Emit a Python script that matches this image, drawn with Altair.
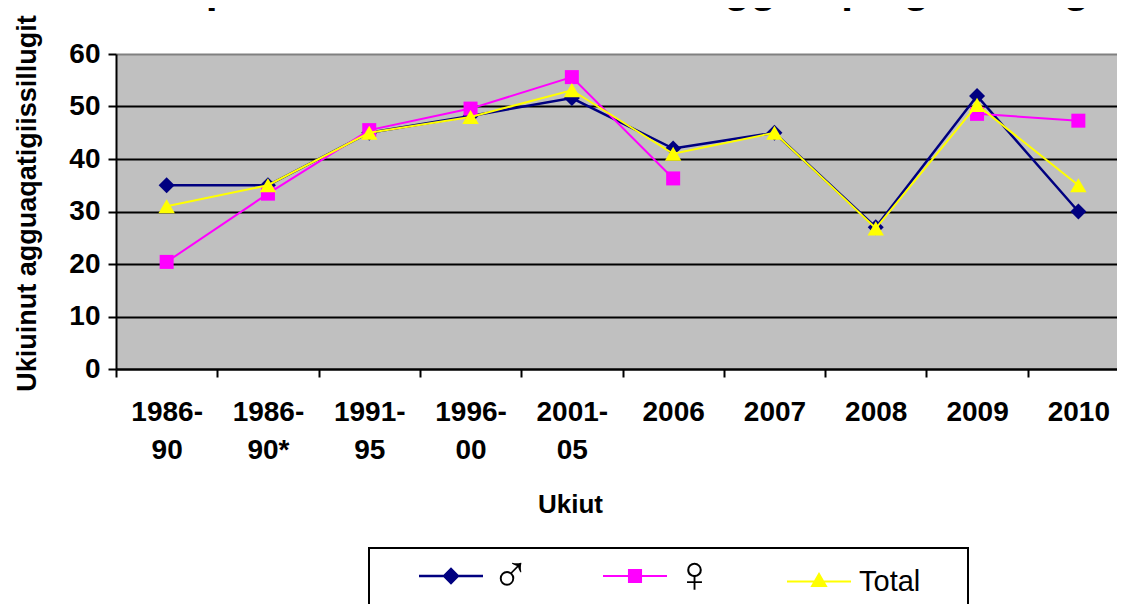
import altair as alt
import pandas as pd

# ---------------- data ----------------
periods = ["1986-90", "1986-90*", "1991-95", "1996-00", "2001-05",
           "2006", "2007", "2008", "2009", "2010"]
male = [35, 35, 45, 48.2, 51.6, 42, 45, 27, 52, 30]
female = [20.4, 33.4, 45.5, 49.6, 55.6, 36.3, None, None, 48.6, 47.3]
total = [31, 35, 45, 48, 53.1, 41, 45, 26.8, 50.3, 35]

series_names = ["♂", "♀", "Total"]
series_values = [male, female, total]
series_colors = ["#000080", "#FF00FF", "#FFFF00"]
marker_shapes = ["diamond", "square", "triangle-up"]
marker_sizes = [256, 196, 270]
line_widths = [2.5, 2, 2]

# legend symbols: a thin bar (the line) plus the marker, in unit coordinates
legend_paths = [
    "M-1,-0.04H1V0.04H-1Z M0,-0.27L0.27,0L0,0.27L-0.27,0Z",
    "M-1,-0.035H1V0.035H-1Z M-0.22,-0.22H0.22V0.22H-0.22Z",
    "M-1,-0.035H1V0.035H-1Z M0,-0.3L0.27,0.17H-0.27Z",
]

y_ticks = [0, 10, 20, 30, 40, 50, 60]
chart_title = "HIV-positive nutaat ukiuinut agguaqatigiissillugit"
x_title = "Ukiut"
y_title = "Ukiuinut agguaqatigiissillugit"

FONT = "Liberation Sans"
W, H = 1013, 315

rows = []
for name, vals in zip(series_names, series_values):
    for p, v in zip(periods, vals):
        rows.append({"period": p, "series": name, "value": v})
df = pd.DataFrame(rows)

# ---------------- encodings ----------------
x_enc = alt.X(
    "period:N",
    sort=periods,
    scale=alt.Scale(type="band", paddingInner=0, paddingOuter=0),
    axis=alt.Axis(
        title=x_title,
        titleFont=FONT, titleFontSize=26, titleFontWeight="bold", titleColor="black",
        titleX=454, titleY=122, titleBaseline="top", titleAlign="center",
        labelAngle=0, labelFont=FONT, labelFontSize=28, labelFontWeight="bold",
        labelColor="black", labelExpr="split(replace(datum.label, '-', '-|'), '|')",
        labelLineHeight=38, labelPadding=21, labelBaseline="top",
        tickBand="extent", tickSize=8, tickWidth=2, tickColor="black",
        domainColor="black", domainWidth=2, grid=False, zindex=1,
    ),
)

y_enc = alt.Y(
    "value:Q",
    scale=alt.Scale(domain=[0, 60], nice=False, zero=True),
    axis=alt.Axis(
        values=y_ticks,
        title=y_title,
        titleFont=FONT, titleFontSize=27, titleFontWeight="bold", titleColor="black",
        titleX=-89, titleY=149, titleBaseline="middle", titleAngle=-90,
        labelFont=FONT, labelFontSize=28, labelFontWeight="bold", labelColor="black",
        labelPadding=8, tickSize=8, tickWidth=2, tickColor="black",
        domainColor="black", domainWidth=2,
        grid=True, gridWidth=2,
        gridColor={"condition": {"test": "datum.value === 60", "value": "#808080"},
                   "value": "black"},
        zindex=0,
    ),
)

layers = []

# legend frame (white box with black border)
frame = alt.Chart(pd.DataFrame({"k": [0]})).mark_rect(
    fill="white", stroke="black", strokeWidth=2
).encode(
    x=alt.value(253), x2=alt.value(852), y=alt.value(494), y2=alt.value(600)
)
layers.append(frame)

for name, col, shp, sz, lw in zip(series_names, series_colors, marker_shapes,
                                  marker_sizes, line_widths):
    base = alt.Chart(df).transform_filter(alt.datum.series == name)
    line = base.mark_line(color=col, strokeWidth=lw,
                          invalid="break-paths-show-domains").encode(x=x_enc, y=y_enc)
    pts = base.transform_filter("isValid(datum.value)").mark_point(
        shape=shp, size=sz, filled=True, opacity=1, color=col
    ).encode(x=x_enc, y=y_enc)
    layers += [line, pts]

legend_props = dict(
    title=None, orient="none", legendX=303, legendY=490, direction="horizontal",
    gridAlign="all", columnPadding=50, padding=0, zindex=2,
    labelFont=FONT,
    labelFontSize=alt.ExprRef("datum.label === 'Total' ? 29 : 52"),
    labelColor="black", labelOffset=8,
    labelFontWeight="normal", labelLimit=0,
    symbolSize=4096, symbolOpacity=1, symbolStrokeWidth=0,
)

legend_layer = alt.Chart(df).transform_filter("isValid(datum.value)").mark_point(
    filled=True, opacity=0, size=4096
).encode(
    x=x_enc, y=y_enc,
    color=alt.Color("series:N", scale=alt.Scale(domain=series_names, range=series_colors),
                    legend=alt.Legend(**legend_props)),
    shape=alt.Shape("series:N", scale=alt.Scale(domain=series_names, range=legend_paths),
                    legend=alt.Legend(**legend_props)),
)
layers.append(legend_layer)

title_layer = alt.Chart(pd.DataFrame({"t": [chart_title]})).mark_text(
    align="left", baseline="alphabetic", font=FONT, fontSize=43, fontWeight="bold",
    color="black"
).encode(text="t:N", x=alt.value(6), y=alt.value(-52))
layers.append(title_layer)

chart = alt.layer(*layers).properties(
    width=W, height=H,
    autosize=alt.AutoSizeParams(type="none"),
    padding={"left": 108, "top": 46, "right": -12, "bottom": 235},
    background="white",
).configure_view(fill="#C0C0C0", stroke="transparent")

chart.save("out.html", embed_options={"renderer": "svg", "actions": False})
